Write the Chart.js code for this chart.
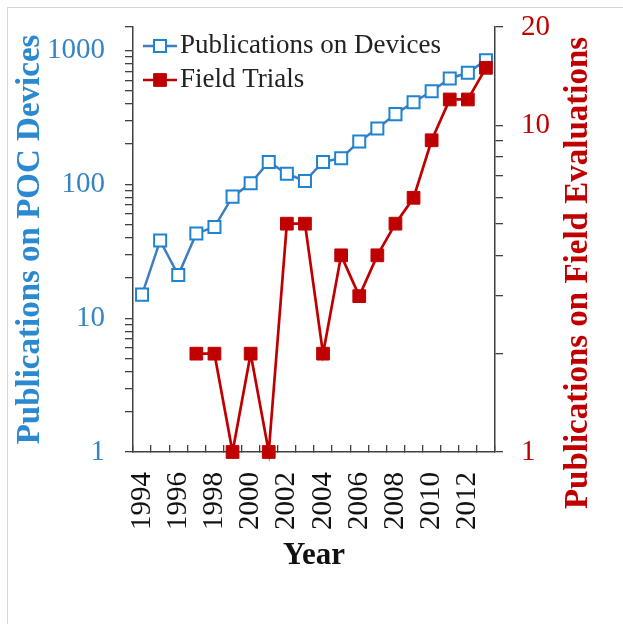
<!DOCTYPE html>
<html>
<head>
<meta charset="utf-8">
<script src="https://cdn.jsdelivr.net/npm/chart.js@4.4.1/dist/chart.umd.min.js"></script>
<style>
  html, body { margin: 0; padding: 0; background: #fff; }
  #wrap { position: relative; width: 623px; height: 624px; overflow: hidden; }
  #frame { position: absolute; left: 7px; top: 7px; width: 640px; height: 640px; border: 1px solid #d6d6d6; }
  #myChart { position: absolute; left: 0; top: 0; }
</style>
</head>
<body>
<div id="wrap">
  <div id="frame"></div>
  <canvas id="myChart" width="623" height="624"></canvas>
</div>
<script>
const years = ['1994', '1995', '1996', '1997', '1998', '1999', '2000', '2001', '2002', '2003',
               '2004', '2005', '2006', '2007', '2008', '2009', '2010', '2011', '2012', '2013'];
const devicePubs = [15, 38, 21, 43, 48, 81, 102, 147, 120, 106, 147, 157, 209, 262, 335, 411, 497, 619, 682, 848];
const fieldTrials = [null, null, null, 2, 2, 1, 2, 1, 5, 5, 2, 4, 3, 4, 5, 6, 9, 12, 12, 15];

const leftTicks = [1, 2, 3, 4, 5, 6, 7, 8, 9, 10, 20, 30, 40, 50, 60, 70, 80, 90,
                   100, 200, 300, 400, 500, 600, 700, 800, 900, 1000, 1500];
const leftLabels = [1, 10, 100, 1000];
const rightTicks = [1, 2, 3, 4, 5, 6, 7, 8, 9, 10, 20];
const rightLabels = [1, 10, 20];

const serif = '"Liberation Serif", "Times New Roman", serif';
const axisColor = '#404040';
const blueLine = '#3f7dc0';
const blueMark = '#1d84d2';
const blueText = '#3585c6';
const red = '#c00000';

// keep the plot box fixed: no extra room for half-labels at the ends
const noPad = s => { s.paddingTop = 0; s.paddingBottom = 0; s.paddingLeft = 0; s.paddingRight = 0; };

// legend inside the plot plus the right-hand title (reads bottom to top)
const extras = {
    id: 'extras',
    afterDraw(chart) {
        const { ctx, chartArea } = chart;
        ctx.save();
        chart.data.datasets.forEach((ds, i) => {
            const y = chartArea.top + 19 + i * 34;
            const x0 = chartArea.left + 10;
            ctx.strokeStyle = ds.borderColor;
            ctx.lineWidth = ds.borderWidth;
            ctx.beginPath();
            ctx.moveTo(x0, y);
            ctx.lineTo(x0 + 34, y);
            ctx.stroke();
            const s = ds.pointRadius * Math.SQRT1_2;
            ctx.fillStyle = ds.pointBackgroundColor;
            ctx.strokeStyle = ds.pointBorderColor;
            ctx.lineWidth = ds.pointBorderWidth;
            ctx.beginPath();
            ctx.rect(x0 + 17 - s, y - s, 2 * s, 2 * s);
            ctx.fill();
            ctx.stroke();
            ctx.fillStyle = '#222';
            ctx.font = '27px ' + serif;
            ctx.textAlign = 'left';
            ctx.textBaseline = 'alphabetic';
            ctx.fillText(ds.label, x0 + 37, y + 7);
        });
        ctx.translate(578, 273);
        ctx.rotate(-Math.PI / 2);
        ctx.fillStyle = red;
        ctx.font = 'bold 33px ' + serif;
        ctx.textAlign = 'center';
        ctx.textBaseline = 'middle';
        ctx.fillText('Publications on Field Evaluations', 0, 0);
        ctx.restore();
    }
};

const ctx = document.getElementById('myChart');

const myChart = new Chart(ctx, {
    type: 'line',
    data: {
        labels: years,
        datasets: [
            {
                label: 'Publications on Devices',
                data: devicePubs,
                yAxisID: 'y',
                order: 1,
                borderColor: blueLine,
                borderWidth: 2.5,
                pointStyle: 'rect',
                pointRadius: 8.5,
                pointBorderWidth: 2,
                pointBorderColor: blueMark,
                pointBackgroundColor: '#ffffff',
                tension: 0,
                clip: false
            },
            {
                label: 'Field Trials',
                data: fieldTrials,
                yAxisID: 'y1',
                order: 0,
                borderColor: red,
                borderWidth: 2.7,
                pointStyle: 'rect',
                pointRadius: 9,
                pointBorderWidth: 1,
                pointBorderColor: red,
                pointBackgroundColor: red,
                tension: 0,
                clip: false
            }
        ]
    },
    options: {
        responsive: false,
        animation: false,
        layout: {
            padding: { top: 27, left: 0, right: 0, bottom: 0 }
        },
        scales: {
            x: {
                type: 'category',
                offset: true,
                afterFit: s => { s.height = 172; noPad(s); },
                grid: {
                    offset: true,
                    drawOnChartArea: false,
                    tickLength: -7,
                    color: axisColor,
                    lineWidth: 1.3
                },
                border: {
                    color: axisColor,
                    width: 1.5
                },
                ticks: {
                    autoSkip: false,
                    maxRotation: 90,
                    minRotation: 90,
                    padding: 27,
                    color: '#111',
                    font: { family: serif, size: 29 },
                    callback: function(value, index) {
                        return index % 2 === 0 ? this.getLabelForValue(value) : '';
                    }
                },
                title: {
                    display: true,
                    text: 'Year',
                    color: '#111',
                    font: { family: serif, size: 31, weight: 'bold' },
                    padding: { top: 0, bottom: 49 }
                }
            },
            y: {
                type: 'logarithmic',
                position: 'left',
                min: 1,
                max: 1500,
                afterBuildTicks: s => { s.ticks = leftTicks.map(v => ({ value: v })); },
                afterFit: s => { s.width = 133; noPad(s); },
                grid: {
                    drawOnChartArea: false,
                    tickLength: 8,
                    color: axisColor,
                    lineWidth: 1.3
                },
                border: {
                    color: axisColor,
                    width: 1.5
                },
                ticks: {
                    autoSkip: false,
                    padding: 20,
                    color: blueText,
                    font: { family: serif, size: 29 },
                    callback: v => leftLabels.includes(v) ? String(v) : ''
                },
                title: {
                    display: true,
                    text: 'Publications on POC Devices',
                    color: '#2a89d0',
                    font: { family: serif, size: 33, weight: 'bold' },
                    padding: { top: 11, bottom: 0 }
                }
            },
            y1: {
                type: 'logarithmic',
                position: 'right',
                min: 1,
                max: 20,
                afterBuildTicks: s => { s.ticks = rightTicks.map(v => ({ value: v })); },
                afterFit: s => { s.width = 128; noPad(s); },
                grid: {
                    drawOnChartArea: false,
                    tickLength: 8,
                    color: axisColor,
                    lineWidth: 1.3
                },
                border: {
                    color: axisColor,
                    width: 1.5
                },
                ticks: {
                    autoSkip: false,
                    padding: 18,
                    color: red,
                    font: { family: serif, size: 29 },
                    callback: v => rightLabels.includes(v) ? String(v) : ''
                }
            }
        },
        plugins: {
            legend: { display: false },
            tooltip: { enabled: false }
        }
    },
    plugins: [extras]
});
</script>
</body>
</html>
